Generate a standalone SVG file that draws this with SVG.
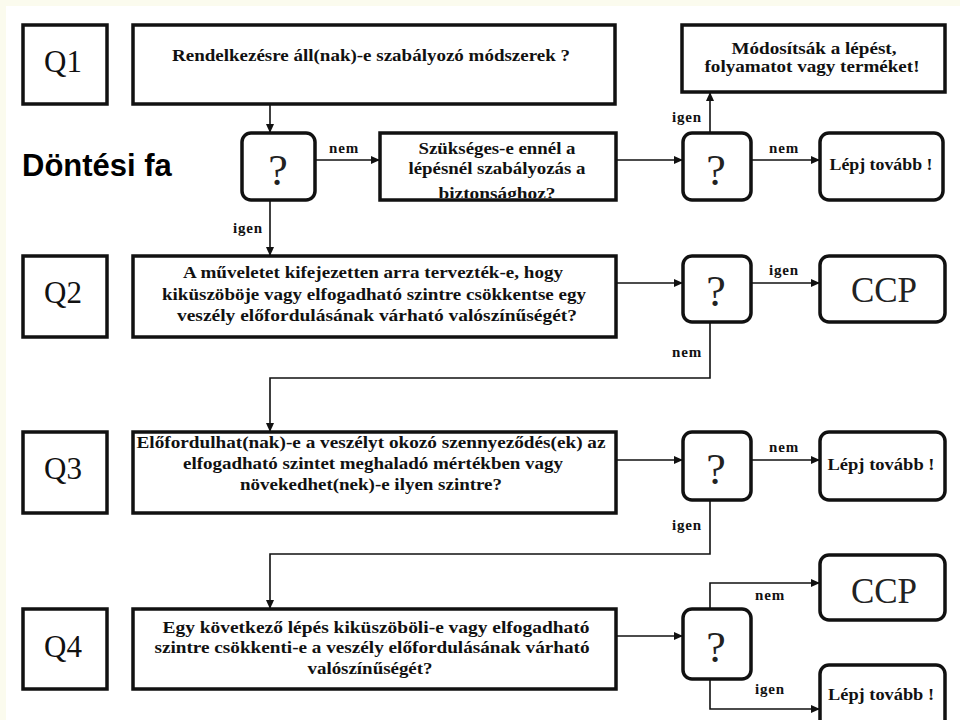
<svg xmlns="http://www.w3.org/2000/svg" width="960" height="720" viewBox="0 0 960 720">
<defs>
<style>
.box{fill:#fff;stroke:#111;stroke-width:3.5}
.dec{fill:#fff;stroke:#111;stroke-width:3.5}
.con{fill:none;stroke:#111;stroke-width:1.6}
.q{font-family:"Liberation Serif","Times New Roman",serif;font-size:31px;fill:#111;text-anchor:middle}
.t{font-family:"Liberation Serif","Times New Roman",serif;font-size:16px;font-weight:bold;fill:#111;text-anchor:middle}
.lbl{font-family:"Liberation Serif","Times New Roman",serif;font-size:15px;font-weight:bold;fill:#111;text-anchor:middle;letter-spacing:0.8px}
.qm{font-family:"Liberation Serif","Times New Roman",serif;font-size:44px;fill:#222;text-anchor:middle}
.ccp{font-family:"Liberation Serif","Times New Roman",serif;font-size:35px;fill:#222;text-anchor:middle}
</style>
<marker id="ah" markerWidth="9" markerHeight="8" refX="8" refY="4" orient="auto" markerUnits="userSpaceOnUse">
<path d="M0,0 L9,4 L0,8 Z" fill="#111"/>
</marker>
<clipPath id="clipS"><rect x="380" y="133" width="236" height="65"/></clipPath>
</defs>
<rect width="960" height="720" fill="#ffffff"/>
<rect x="0" y="0" width="960" height="6" fill="#fbfbee"/>
<rect x="0" y="0" width="6" height="720" fill="#fbfbee"/>

<text x="22" y="176" font-family="Liberation Sans, Arial, sans-serif" font-size="31" font-weight="bold" fill="#000">Döntési fa</text>

<g id="connectors">
<line class="con" x1="270" y1="105" x2="270" y2="132" marker-end="url(#ah)"/>
<line class="con" x1="316" y1="160" x2="379" y2="160" marker-end="url(#ah)"/>
<line class="con" x1="617" y1="160" x2="682" y2="160" marker-end="url(#ah)"/>
<line class="con" x1="710" y1="132" x2="710" y2="93" marker-end="url(#ah)"/>
<line class="con" x1="752" y1="160" x2="819" y2="160" marker-end="url(#ah)"/>
<line class="con" x1="270" y1="201" x2="270" y2="255" marker-end="url(#ah)"/>
<line class="con" x1="617" y1="283" x2="682" y2="283" marker-end="url(#ah)"/>
<line class="con" x1="752" y1="283" x2="819" y2="283" marker-end="url(#ah)"/>
<polyline class="con" points="710,323 710,378 270,378 270,431" marker-end="url(#ah)"/>
<line class="con" x1="617" y1="460" x2="682" y2="460" marker-end="url(#ah)"/>
<line class="con" x1="752" y1="460" x2="819" y2="460" marker-end="url(#ah)"/>
<polyline class="con" points="710,501 710,554 270,554 270,608" marker-end="url(#ah)"/>
<line class="con" x1="617" y1="636" x2="682" y2="636" marker-end="url(#ah)"/>
<polyline class="con" points="710,608 710,583 819,583" marker-end="url(#ah)"/>
<polyline class="con" points="710,680 710,709 819,709" marker-end="url(#ah)"/>
<text class="lbl" x="344" y="153">nem</text>
<text class="lbl" x="687" y="122">igen</text>
<text class="lbl" x="784" y="153">nem</text>
<text class="lbl" x="248" y="233">igen</text>
<text class="lbl" x="784" y="275">igen</text>
<text class="lbl" x="687" y="357">nem</text>
<text class="lbl" x="784" y="452">nem</text>
<text class="lbl" x="687" y="530">igen</text>
<text class="lbl" x="770" y="600">nem</text>
<text class="lbl" x="770" y="694">igen</text>
</g>

<g id="q1-label"><rect class="box" x="23" y="25" width="84" height="79"/><text class="q" x="63" y="72">Q1</text></g>
<g id="q1"><rect class="box" x="133" y="25" width="482" height="79"/><text class="t" x="371" y="61" textLength="398" lengthAdjust="spacingAndGlyphs">Rendelkezésre áll(nak)-e szabályozó módszerek ?</text></g>
<g id="d1"><rect class="dec" x="242" y="133" width="73" height="67" rx="9"/><text class="qm" x="278" y="185">?</text></g>
<g id="s1"><rect class="box" x="380" y="133" width="236" height="67"/>
<g clip-path="url(#clipS)"><text class="t" x="497" y="154" textLength="157" lengthAdjust="spacingAndGlyphs">Szükséges-e ennél a</text><text class="t" x="497" y="174" textLength="177" lengthAdjust="spacingAndGlyphs">lépésnél szabályozás a</text><text class="t" x="497" y="199" textLength="117" lengthAdjust="spacingAndGlyphs">biztonsághoz?</text></g></g>
<g id="d2"><rect class="dec" x="683" y="133" width="68" height="67" rx="9"/><text class="qm" x="716" y="185">?</text></g>
<g id="mod"><rect class="box" x="682" y="25" width="263" height="67"/><text class="t" x="814" y="54" textLength="165" lengthAdjust="spacingAndGlyphs">Módosítsák a lépést,</text><text class="t" x="812" y="72" textLength="215" lengthAdjust="spacingAndGlyphs">folyamatot vagy terméket!</text></g>
<g id="lepj1"><rect class="dec" x="820" y="133" width="123" height="67" rx="9"/><text class="t" x="881" y="170" textLength="103" lengthAdjust="spacingAndGlyphs">Lépj tovább !</text></g>

<g id="q2-label"><rect class="box" x="23" y="256" width="84" height="81"/><text class="q" x="63" y="303">Q2</text></g>
<g id="q2"><rect class="box" x="133" y="256" width="483" height="81"/><text class="t" x="373" y="278" textLength="380" lengthAdjust="spacingAndGlyphs">A műveletet kifejezetten arra tervezték-e, hogy</text><text class="t" x="374" y="300" textLength="424" lengthAdjust="spacingAndGlyphs">kiküszöböje vagy elfogadható szintre csökkentse egy</text><text class="t" x="377" y="321" textLength="400" lengthAdjust="spacingAndGlyphs">veszély előfordulásának várható valószínűségét?</text></g>
<g id="d3"><rect class="dec" x="683" y="256" width="68" height="66" rx="9"/><text class="qm" x="716" y="306">?</text></g>
<g id="ccp1"><rect class="dec" x="820" y="256" width="125" height="66" rx="9"/><text class="ccp" x="884" y="302">CCP</text></g>

<g id="q3-label"><rect class="box" x="23" y="432" width="84" height="81"/><text class="q" x="63" y="479">Q3</text></g>
<g id="q3"><rect class="box" x="133" y="432" width="483" height="81"/><text class="t" x="371" y="448" textLength="469" lengthAdjust="spacingAndGlyphs">Előfordulhat(nak)-e a veszélyt okozó szennyeződés(ek) az</text><text class="t" x="373" y="469" textLength="380" lengthAdjust="spacingAndGlyphs">elfogadható szintet meghaladó mértékben vagy</text><text class="t" x="371" y="490" textLength="262" lengthAdjust="spacingAndGlyphs">növekedhet(nek)-e ilyen szintre?</text></g>
<g id="d4"><rect class="dec" x="683" y="432" width="68" height="68" rx="9"/><text class="qm" x="716" y="484">?</text></g>
<g id="lepj2"><rect class="dec" x="820" y="432" width="125" height="68" rx="9"/><text class="t" x="881" y="470" textLength="107" lengthAdjust="spacingAndGlyphs">Lépj tovább !</text></g>

<g id="q4-label"><rect class="box" x="23" y="609" width="84" height="80"/><text class="q" x="63" y="657">Q4</text></g>
<g id="q4"><rect class="box" x="133" y="609" width="483" height="80"/><text class="t" x="376" y="633" textLength="427" lengthAdjust="spacingAndGlyphs">Egy következő lépés kiküszöböli-e vagy elfogadható</text><text class="t" x="372" y="653" textLength="435" lengthAdjust="spacingAndGlyphs">szintre csökkenti-e a veszély előfordulásának várható</text><text class="t" x="370" y="674" textLength="125" lengthAdjust="spacingAndGlyphs">valószínűségét?</text></g>
<g id="d5"><rect class="dec" x="683" y="609" width="68" height="70" rx="9"/><text class="qm" x="716" y="662">?</text></g>
<g id="ccp2"><rect class="dec" x="820" y="555" width="125" height="65" rx="9"/><text class="ccp" x="884" y="603">CCP</text></g>
<g id="lepj3"><rect class="dec" x="820" y="665" width="125" height="70" rx="9"/><text class="t" x="881" y="700" textLength="106" lengthAdjust="spacingAndGlyphs">Lépj tovább !</text></g>
</svg>
